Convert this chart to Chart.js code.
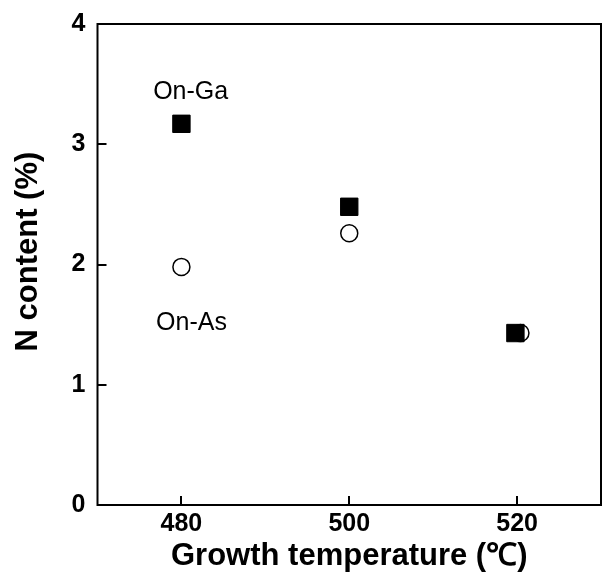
<!DOCTYPE html>
<html>
<head>
<meta charset="utf-8">
<script src="https://cdn.jsdelivr.net/npm/chart.js@4"></script>
<style>
  html, body { margin: 0; padding: 0; background: #fff; }
  #wrap { width: 603px; height: 576px; }
</style>
</head>
<body>
<div id="wrap"><canvas id="myChart" width="603" height="576"></canvas></div>
<script>
// data
const gaTemps = [480, 500, 519.8];
const gaN = [3.17, 2.48, 1.43];
const asTemps = [480, 500, 520.4];
const asN = [1.98, 2.26, 1.43];

const xTicks = [480, 500, 520];
const yTicks = [0, 1, 2, 3, 4];

// text labels inside the plot (data coords)
const labels = [
    { text: "On-Ga", x: 481.1, y: 3.43 },
    { text: "On-As", x: 481.2, y: 1.51 }
];

const toPoints = (xs, ys) => xs.map((x, i) => ({ x: x, y: ys[i] }));

// frame + inward tick marks + text labels
const framePlugin = {
    id: "frame",
    afterDraw(chart) {
        const ctx = chart.ctx;
        const a = chart.chartArea;
        const xs = chart.scales.x, ys = chart.scales.y;
        ctx.save();
        ctx.strokeStyle = "#000";
        ctx.lineWidth = 2;
        ctx.strokeRect(a.left, a.top, a.right - a.left, a.bottom - a.top);
        ctx.beginPath();
        xTicks.forEach(v => {
            const px = Math.round(xs.getPixelForValue(v));
            ctx.moveTo(px, a.bottom);
            ctx.lineTo(px, a.bottom - 9);
        });
        yTicks.forEach(v => {
            const py = Math.round(ys.getPixelForValue(v));
            ctx.moveTo(a.left, py);
            ctx.lineTo(a.left + 9, py);
        });
        ctx.stroke();

        ctx.fillStyle = "#000";
        ctx.font = "25px 'Liberation Sans', Arial, sans-serif";
        ctx.textAlign = "center";
        ctx.textBaseline = "middle";
        labels.forEach(l => {
            ctx.fillText(l.text, xs.getPixelForValue(l.x), ys.getPixelForValue(l.y));
        });
        ctx.restore();
    }
};

const ctx = document.getElementById("myChart").getContext("2d");

new Chart(ctx, {
    type: "scatter",
    data: {
        datasets: [
            {
                label: "On-Ga",
                data: toPoints(gaTemps, gaN),
                pointStyle: "rect",
                pointRadius: 12.3,
                backgroundColor: "#000",
                borderColor: "#000",
                borderWidth: 1
            },
            {
                label: "On-As",
                data: toPoints(asTemps, asN),
                pointStyle: "circle",
                pointRadius: 8.5,
                backgroundColor: "#fff",
                borderColor: "#000",
                borderWidth: 1.5
            }
        ]
    },
    options: {
        responsive: false,
        animation: false,
        layout: { autoPadding: false, padding: { top: 24, right: 2, left: 0, bottom: 0 } },
        plugins: {
            legend: { display: false },
            tooltip: { enabled: false }
        },
        scales: {
            x: {
                type: "linear",
                min: 470,
                max: 530,
                afterBuildTicks: s => { s.ticks = xTicks.map(v => ({ value: v })); },
                afterFit: s => { s.height = 71; s.paddingLeft = 0; s.paddingRight = 0; },
                grid: { display: false, drawTicks: false },
                border: { display: false },
                ticks: {
                    color: "#000",
                    padding: 4,
                    font: { family: "'Liberation Sans', Arial, sans-serif", size: 25, weight: "bold" }
                },
                title: {
                    display: true,
                    text: "Growth temperature (℃)",
                    color: "#000",
                    padding: { top: 0, bottom: 1 },
                    font: { family: "'Liberation Sans', Arial, sans-serif", size: 31, weight: "bold" }
                }
            },
            y: {
                min: 0,
                max: 4,
                afterBuildTicks: s => { s.ticks = yTicks.map(v => ({ value: v })); },
                afterFit: s => { s.width = 97.5; s.paddingTop = 0; s.paddingBottom = 0; },
                grid: { display: false, drawTicks: false },
                border: { display: false },
                ticks: {
                    color: "#000",
                    padding: 12,
                    font: { family: "'Liberation Sans', Arial, sans-serif", size: 25, weight: "bold" }
                },
                title: {
                    display: true,
                    text: "   N content (%)",
                    color: "#000",
                    padding: { top: 10, bottom: 0 },
                    font: { family: "'Liberation Sans', Arial, sans-serif", size: 31, weight: "bold" }
                }
            }
        }
    },
    plugins: [framePlugin]
});
</script>
</body>
</html>
